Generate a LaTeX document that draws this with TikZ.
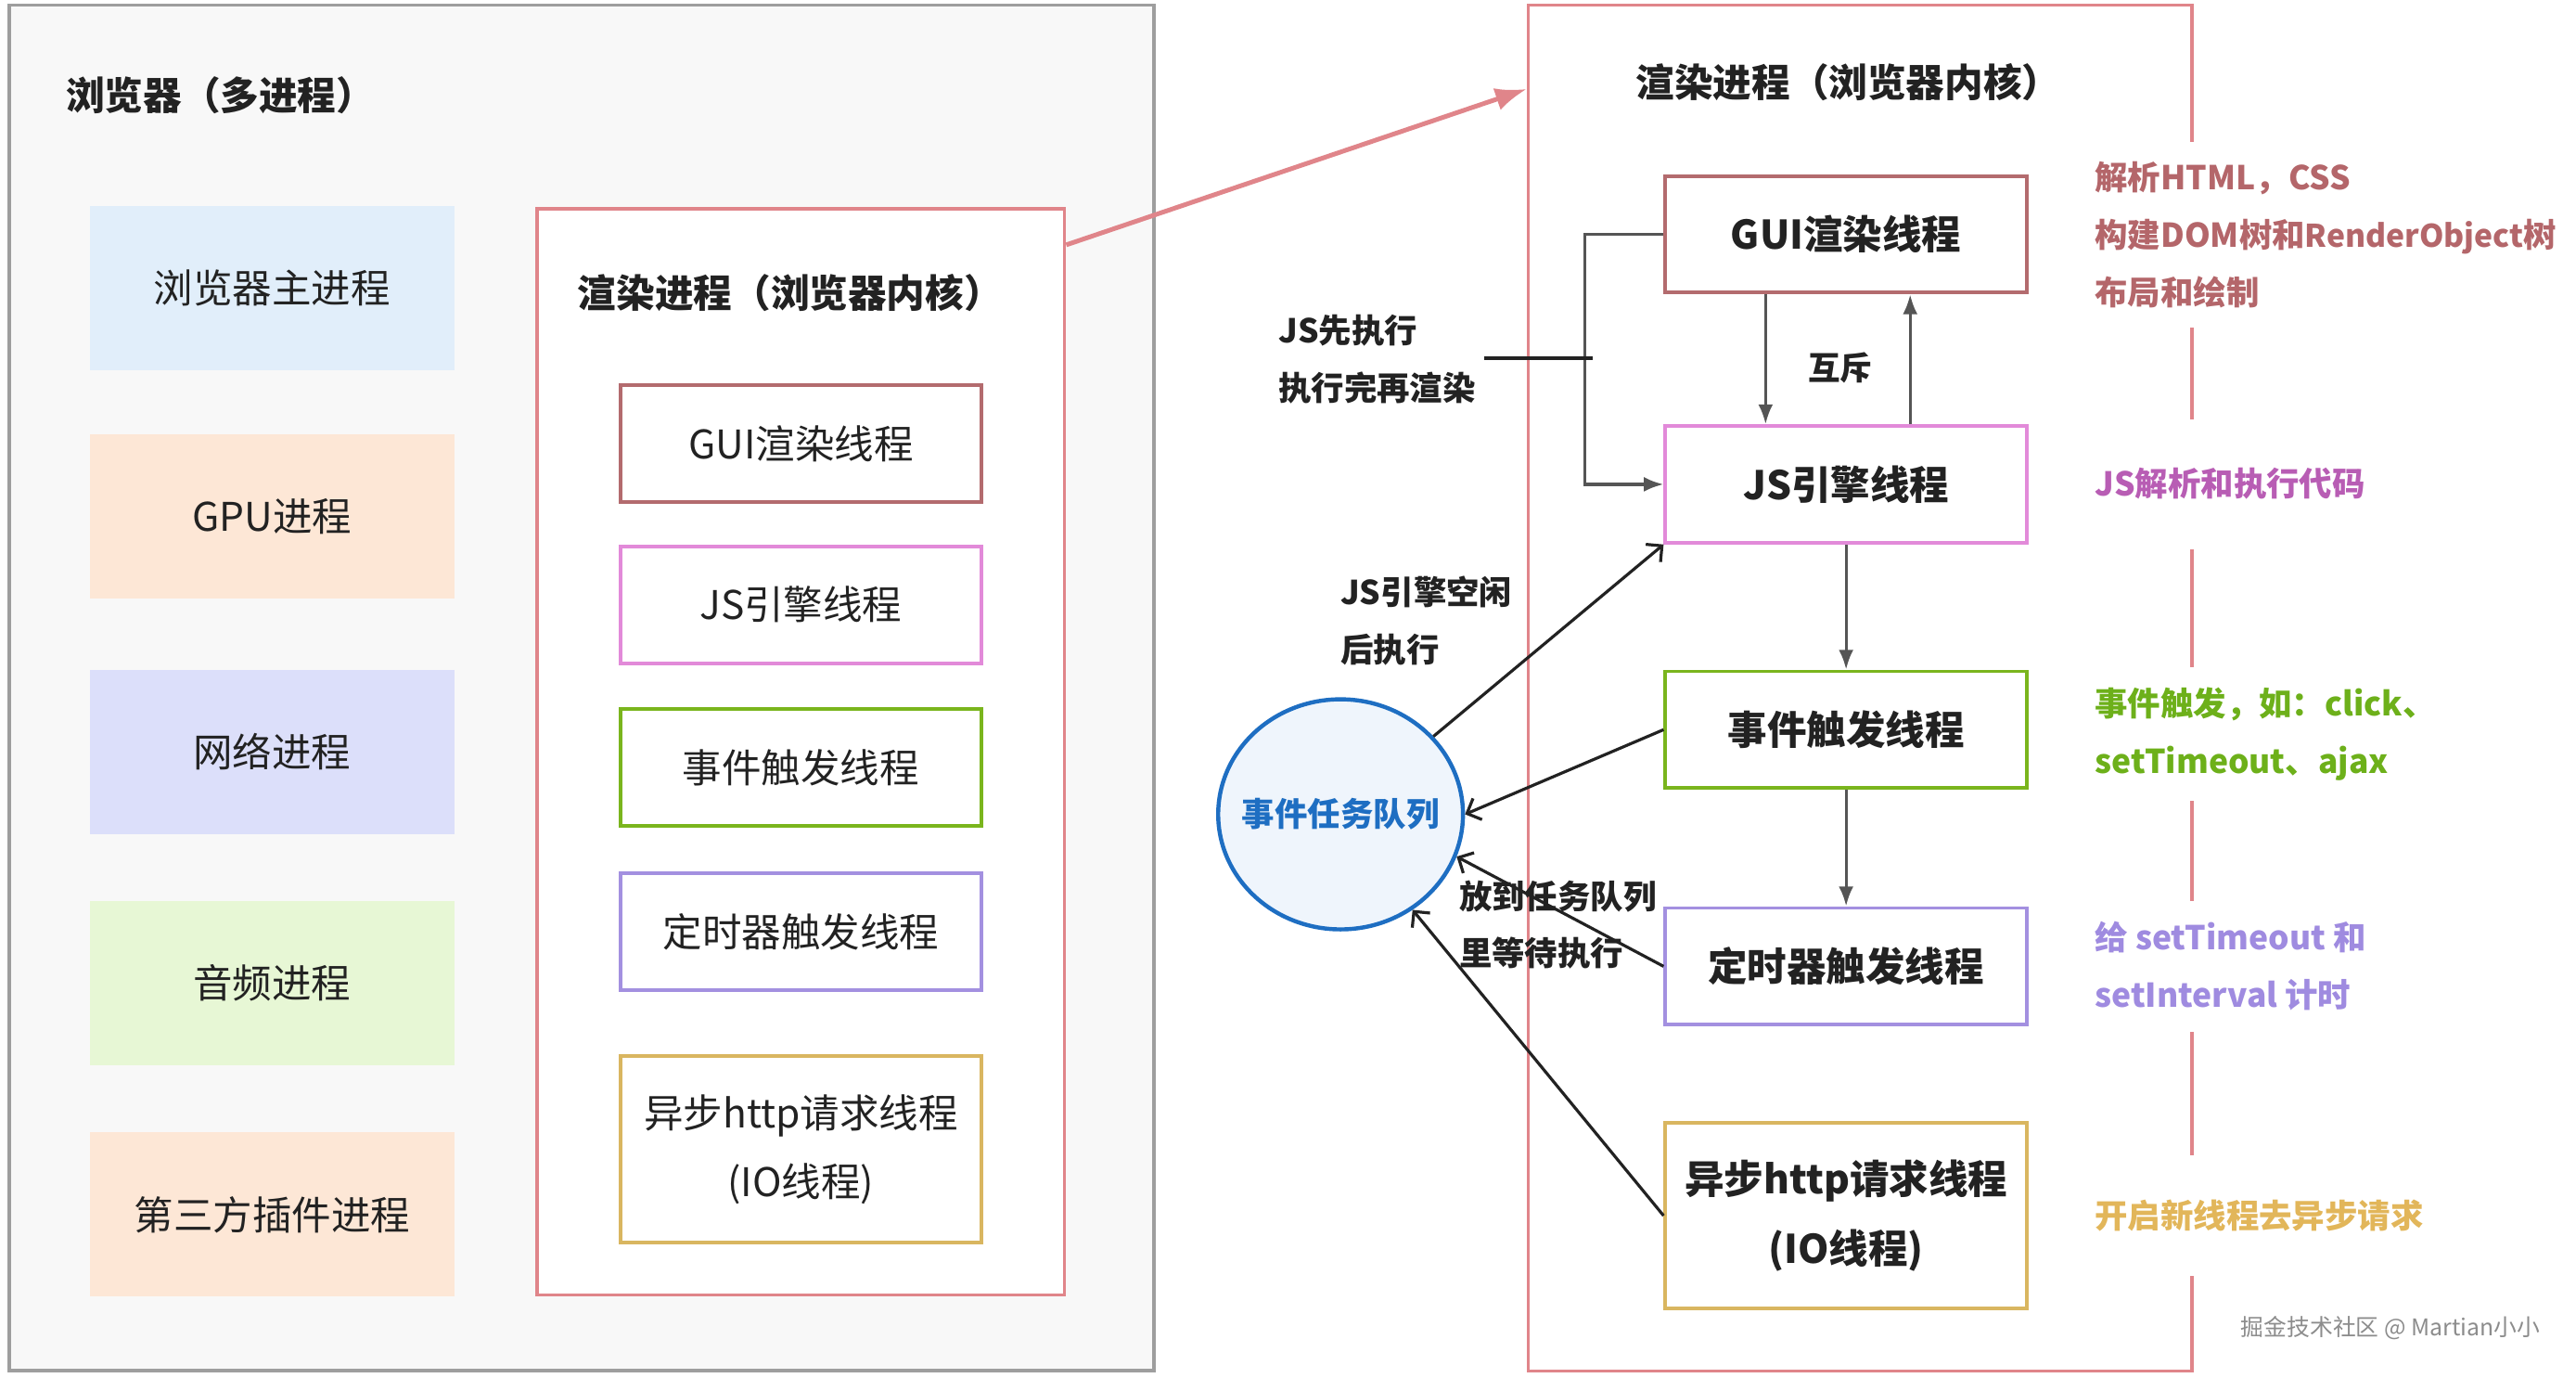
\documentclass[tikz,border=0pt]{standalone}
\usepackage{fontspec}
\setmainfont{Noto Sans CJK SC}
\usetikzlibrary{arrows.meta,shapes.geometric,calc}
\definecolor{txtc}{HTML}{222222}
\definecolor{outerfill}{HTML}{F8F8F8}
\definecolor{outerdraw}{HTML}{9E9E9E}
\definecolor{pinkb}{HTML}{E0858A}
\definecolor{guic}{HTML}{B36B6E}
\definecolor{jsc}{HTML}{E28AD9}
\definecolor{evc}{HTML}{7AB51D}
\definecolor{tmc}{HTML}{A390E0}
\definecolor{ioc}{HTML}{D9B660}
\definecolor{fblue}{HTML}{E1EEFA}
\definecolor{fpeach}{HTML}{FDE7D6}
\definecolor{flav}{HTML}{DCDFFA}
\definecolor{fgreen}{HTML}{E7F7D5}
\definecolor{qblue}{HTML}{1E6EC2}
\definecolor{qfill}{HTML}{EFF5FC}
\definecolor{agui}{HTML}{B4666A}
\definecolor{ajs}{HTML}{B85DB4}
\definecolor{aev}{HTML}{6DB01A}
\definecolor{atm}{HTML}{9F8BE0}
\definecolor{aio}{HTML}{E2B65A}
\definecolor{grayarr}{HTML}{555555}
\begin{document}
\begin{tikzpicture}[x=1pt,y=-1pt,
  ftitle/.style={font=\fontsize{23.5}{30}\selectfont\bfseries,text=txtc},
  procbox/.style={fill=#1,minimum width=222pt,minimum height=100pt,inner sep=0pt,
    font=\fontsize{24}{30}\selectfont,text=txtc},
  thr/.style={draw=#1,line width=2.2pt,fill=white,minimum width=220pt,minimum height=71pt,
    inner sep=0pt,text=txtc,align=center,font=\fontsize{24}{42}\selectfont},
  thrb/.style={thr=#1,font=\fontsize{24}{42}\selectfont\bfseries},
  lbl/.style={anchor=west,inner sep=0pt,align=left,text=txtc,font=\fontsize{20}{35}\selectfont\bfseries},
  annot/.style={anchor=west,inner sep=4pt,align=left,fill=white,text=#1,font=\fontsize{20}{35}\selectfont\bfseries},
  garrow/.style={draw=grayarr,line width=1.8pt,-{Latex[length=12pt,width=9pt]}},
  barrow/.style={draw=txtc,line width=1.8pt,-{Straight Barb[length=7pt,width=14pt,line width=1.8pt]}}
]
\useasboundingbox (0,0) rectangle (1568,838);
\fill[white] (0,0) rectangle (1568,838);

% outer browser box
\node[draw=outerdraw,fill=outerfill,line width=2pt,minimum width=697pt,minimum height=831pt,inner sep=0pt] (outer) at (354,418.5) {};
\node[ftitle,anchor=west,inner sep=0pt] (otitle) at (40,58) {浏览器（多进程）};

% process boxes
\node[procbox=fblue] (p1) at (165.7,175.5) {浏览器主进程};
\node[procbox=fpeach] (p2) at (165.7,314) {GPU进程};
\node[procbox=flav] (p3) at (165.7,457.5) {网络进程};
\node[procbox=fgreen] (p4) at (165.7,598) {音频进程};
\node[procbox=fpeach] (p5) at (165.7,739) {第三方插件进程};

% left render box
\node[draw=pinkb,fill=white,line width=2pt,minimum width=321pt,minimum height=661pt,inner sep=0pt] (rb1) at (487.5,457.5) {};
\node[ftitle] (rt1) at (481,178) {渲染进程（浏览器内核）};
\node[thr=guic] (lgui) at (487.5,270) {GUI渲染线程};
\node[thr=jsc] (ljs) at (487.5,368) {JS引擎线程};
\node[thr=evc] (lev) at (487.5,467) {事件触发线程};
\node[thr=tmc] (ltm) at (487.5,567) {定时器触发线程};
\node[thr=ioc,minimum height=113pt] (lio) at (487.5,699.3) {异步http请求线程\\(IO线程)};

% right render box
\node[draw=pinkb,fill=white,line width=2pt,minimum width=404pt,minimum height=831pt,inner sep=0pt] (rb2) at (1132.2,418.7) {};
\node[ftitle] (rt2) at (1125,50) {渲染进程（浏览器内核）};

% big pink arrow
\draw[draw=pinkb,line width=2.8pt,-{Latex[length=19pt,width=14pt]}] ([yshift=-23pt]rb1.north east) -- ([yshift=-52pt]rb2.north west);

% right thread boxes
\node[thrb=guic] (gui) at (1123.7,142.6) {GUI渲染线程};
\node[thrb=jsc] (js) at (1123.7,294.7) {JS引擎线程};
\node[thrb=evc] (ev) at (1123.7,444) {事件触发线程};
\node[thrb=tmc] (tm) at (1123.7,588) {定时器触发线程};
\node[thrb=ioc,minimum height=113pt] (io) at (1123.7,739.7) {异步http请求线程\\(IO线程)};

% annotations (white backgrounds break the box border)
\node[annot=agui,minimum height=113pt] (a1) at (1271,142.8) {解析HTML，CSS\\构建DOM树和\mbox{\fontsize{19}{35}\selectfont RenderObject}树\\布局和绘制};
\node[annot=ajs,minimum height=79pt] (a2) at (1271,294.5) {JS解析和执行代码};
\node[annot=aev,minimum height=81pt] (a3) at (1271,446.5) {事件触发，如：click、\\setTimeout、ajax};
\node[annot=atm,minimum height=80pt] (a4) at (1271,588) {给 setTimeout 和\\setInterval 计时};
\node[annot=aio,minimum height=73pt] (a5) at (1271,739.7) {开启新线程去异步请求};

% mutual exclusion arrows
\draw[garrow] ([xshift=-49pt]gui.south) -- ([xshift=-49pt]js.north);
\draw[garrow] ([xshift=39pt]js.north) -- ([xshift=39pt]gui.south);
\node[font=\fontsize{19.5}{24}\selectfont\bfseries,text=txtc] (mx) at (1120,224) {互斥};

% JS first bracket
\draw[garrow] (gui.west) -- ++(-48,0) |- (js.west);
\coordinate (bl) at (903.5,218);
\coordinate (bm) at (969.6,218);
\draw[draw=txtc,line width=2pt] (bl) -- (bm);
\node[lbl] (l1) at (778,218.7) {JS先执行\\执行完再渲染};

% vertical flow
\draw[garrow] (js.south) -- (ev.north);
\draw[garrow] (ev.south) -- (tm.north);

% event queue
\node[ellipse,draw=qblue,fill=qfill,line width=2.5pt,minimum width=149pt,minimum height=140pt,inner sep=0pt] (q) at (816,495.5) {};
\node[text=qblue,font=\fontsize{20}{24}\selectfont\bfseries,inner sep=0pt] (qt) at (q.center) {事件任务队列};

\draw[barrow] (q.40) -- (js.south west);
\draw[barrow] (ev.west) -- (q.0);
\draw[barrow] (tm.west) -- (q.-20);
\draw[barrow] (io.west) -- (q.-53);

\node[lbl] (l2) at (815.8,377.7) {JS引擎空闲\\后执行};
\node[lbl,font=\fontsize{20}{34}\selectfont\bfseries] (l3) at (888,562.7) {放到任务队列\\里等待执行};

% watermark
\node[font=\fontsize{14}{16}\selectfont,text=black!45] (wm) at (1455,808) {掘金技术社区 @ Martian小小};
\end{tikzpicture}
\end{document}
